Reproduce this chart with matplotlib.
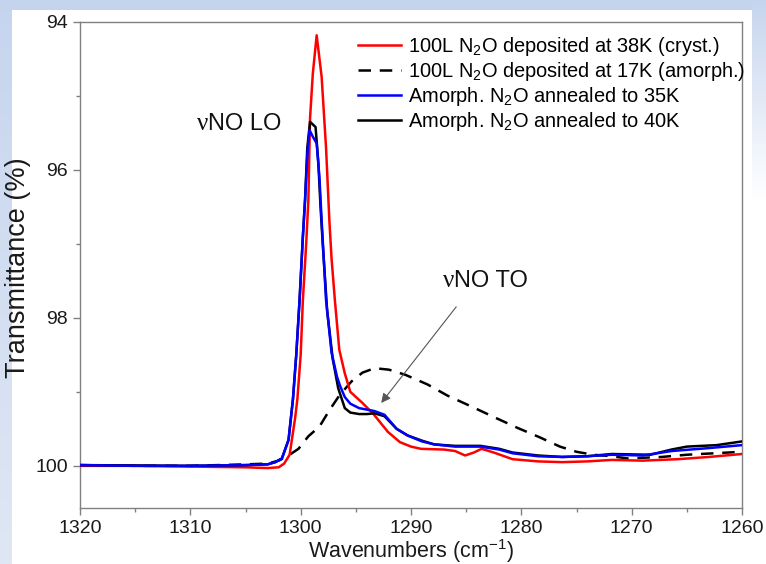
import numpy as np
import matplotlib
matplotlib.use('Agg')
import matplotlib.pyplot as plt
from matplotlib.ticker import MultipleLocator

plt.rcParams['font.family'] = ['Liberation Sans', 'DejaVu Sans']
plt.rcParams['mathtext.fontset'] = 'custom'
plt.rcParams['mathtext.rm'] = 'Liberation Sans'
plt.rcParams['mathtext.it'] = 'Liberation Sans:italic'
plt.rcParams['mathtext.bf'] = 'Liberation Sans:bold'

# --- spectra (wavenumber cm^-1, transmittance %) ---
W_CRYST = [1320, 1315, 1310, 1305, 1303, 1302, 1301.5, 1301.0, 1300.8, 1300.5,
           1300.3, 1300.0, 1299.8, 1299.5, 1299.3, 1299.15, 1298.9, 1298.55,
           1298.1, 1297.7, 1297.4, 1297.2, 1296.9, 1296.5, 1296.0, 1295.5,
           1294.4, 1293.4, 1292.1, 1291.0, 1290.0, 1289.1, 1287.0, 1286.0,
           1285.1, 1284.3, 1283.6, 1282.5, 1280.8, 1278.5, 1276.3, 1274.0,
           1271.8, 1269.0, 1265.8, 1263.0, 1260.0]
T_CRYST = [100.00, 100.00, 100.01, 100.02, 100.03, 100.02, 99.97, 99.85, 99.65,
           99.35, 99.10, 98.50, 97.76, 97.00, 96.40, 95.30, 94.70, 94.18, 94.74,
           95.70, 96.68, 97.20, 97.76, 98.43, 98.75, 99.00, 99.15, 99.30, 99.54,
           99.68, 99.74, 99.77, 99.78, 99.80, 99.86, 99.82, 99.77, 99.82, 99.91,
           99.94, 99.95, 99.94, 99.92, 99.93, 99.91, 99.88, 99.84]

W_AMORPH = [1320, 1315, 1310, 1305, 1303, 1302, 1301.2, 1300.2, 1299.3, 1298.3,
            1297.4, 1296.5, 1295.4, 1294.4, 1293.3, 1292.0, 1290.5, 1288.5,
            1286.7, 1284.5, 1282.2, 1280.3, 1278.4, 1276.5, 1275.0, 1273.5,
            1271.8, 1270.4, 1267.3, 1265.0, 1260.0]
T_AMORPH = [99.99, 100.00, 100.00, 99.98, 99.97, 99.93, 99.87, 99.77, 99.60,
            99.47, 99.25, 99.05, 98.86, 98.74, 98.68, 98.70, 98.77, 98.90, 99.05,
            99.20, 99.36, 99.49, 99.61, 99.74, 99.81, 99.85, 99.87, 99.90, 99.88,
            99.85, 99.81]

W_ANN35 = [1320, 1315, 1310, 1305, 1303, 1302.3, 1301.7, 1301.1, 1300.7, 1300.4,
           1300.1, 1299.8, 1299.6, 1299.4, 1299.2, 1298.9, 1298.55, 1298.3,
           1298.1, 1297.7, 1297.2, 1296.7, 1296.4, 1296.0, 1295.5, 1294.7,
           1294.0, 1293.3, 1292.4, 1291.3, 1290.3, 1289.0, 1287.9, 1286.0,
           1283.7, 1282.0, 1280.8, 1278.5, 1276.3, 1274.0, 1271.8, 1269.0,
           1266.4, 1263.0, 1260.0]
T_ANN35 = [99.99, 100.00, 100.00, 99.99, 99.98, 99.95, 99.90, 99.65, 99.10,
           98.50, 97.76, 96.90, 96.40, 95.80, 95.46, 95.55, 95.64, 96.10, 96.68,
           97.76, 98.47, 98.80, 98.93, 99.07, 99.16, 99.22, 99.24, 99.26, 99.31,
           99.50, 99.59, 99.67, 99.71, 99.74, 99.74, 99.78, 99.83, 99.87, 99.88,
           99.87, 99.85, 99.86, 99.80, 99.76, 99.72]

W_ANN40 = [1320, 1310, 1305, 1303, 1302.3, 1301.7, 1301.1, 1300.7, 1300.4,
           1300.1, 1299.8, 1299.6, 1299.4, 1299.15, 1298.65, 1298.4, 1298.2,
           1298.0, 1297.6, 1297.1, 1296.6, 1296.0, 1295.5, 1294.7, 1294.0,
           1293.3, 1292.4, 1291.3, 1290.3, 1289.0, 1287.9, 1286.0, 1283.7,
           1282.0, 1280.8, 1278.5, 1276.3, 1274.0, 1271.8, 1268.3, 1266.4,
           1265.0, 1262.3, 1260.0]
T_ANN40 = [99.99, 100.00, 99.99, 99.98, 99.95, 99.90, 99.65, 99.10, 98.50,
           97.76, 96.90, 96.40, 95.70, 95.35, 95.42, 95.90, 96.50, 97.00, 97.90,
           98.55, 98.95, 99.22, 99.28, 99.30, 99.30, 99.29, 99.33, 99.50, 99.59,
           99.66, 99.71, 99.73, 99.73, 99.77, 99.82, 99.86, 99.88, 99.87, 99.84,
           99.85, 99.78, 99.74, 99.72, 99.67]

LABELS = ['100L N$_2$O deposited at 38K (cryst.)',
          '100L N$_2$O deposited at 17K (amorph.)',
          'Amorph. N$_2$O annealed to 35K',
          'Amorph. N$_2$O annealed to 40K']

X_TICKS = [1320, 1310, 1300, 1290, 1280, 1270, 1260]
Y_TICKS = [94, 96, 98, 100]

# annotation anchors (data coords): split point between the greek nu and the rest
LO_POS = (1308.4, 95.46)
TO_POS = (1286.1, 97.58)
TO_TAIL = (1285.9, 97.85)
TO_HEAD = (1292.7, 99.15)

W, H = 766, 564
fig = plt.figure(figsize=(W / 100, H / 100), dpi=100)

# slide-style light blue frame behind the chart
bg = fig.add_axes([0, 0, 1, 1], zorder=-10)
img = np.ones((H, W, 3))
top_c = np.array([0.776, 0.835, 0.933])
bot_c = np.array([0.875, 0.906, 0.957])
for r in range(H):
    f = r / (H - 1)
    img[r, :12] = top_c * (1 - f) + bot_c * f
img[:10, :] = top_c
for r in range(H):
    f = min(1.0, r / 200)
    img[r, 752:] = top_c * (1 - f) + np.ones(3) * f
bg.imshow(img, aspect='auto', extent=(0, 1, 0, 1))
bg.axis('off')

AX_TOP, AX_BOT = 22, 508
ax = fig.add_axes([80 / W, 1 - AX_BOT / H, 662 / W, (AX_BOT - AX_TOP) / H])

LW = 1.8
l1, = ax.plot(W_CRYST, T_CRYST, color='#ff0000', lw=LW, zorder=3)
l2, = ax.plot(W_AMORPH, T_AMORPH, color='black', lw=LW, dashes=(5, 3.5), zorder=2)
l4, = ax.plot(W_ANN40, T_ANN40, color='black', lw=LW, zorder=3)
l3, = ax.plot(W_ANN35, T_ANN35, color='#0000ff', lw=LW, zorder=4)

ax.set_xlim(1320, 1260)
ax.set_ylim(100.57, 94)
ax.set_xticks(X_TICKS)
ax.set_yticks(Y_TICKS)
ax.xaxis.set_minor_locator(MultipleLocator(5))
ax.yaxis.set_minor_locator(MultipleLocator(1))

for s in ax.spines.values():
    s.set_color('#808080')
    s.set_linewidth(1.0)
ax.tick_params(which='major', direction='out', length=5, width=1.0,
               color='#808080', labelsize=14, labelcolor='#1a1a1a')
ax.tick_params(which='minor', direction='out', length=3, width=1.0,
               color='#808080')

ax.set_xlabel('Wavenumbers (cm$^{-1}$)', fontsize=15.5, color='#1a1a1a', labelpad=0)
ax.set_ylabel('Transmittance (%)', fontsize=19.5, color='#1a1a1a')
ax.yaxis.label.set_va('center')
ax.yaxis.set_label_coords(-0.093, 0.495)

for (x, y), rest in ((LO_POS, 'NO LO'), (TO_POS, 'NO TO')):
    ax.text(x, y, 'ν', fontsize=18, family='Liberation Serif', ha='right',
            va='baseline', color='#111111')
    ax.text(x, y, rest, fontsize=17, ha='left', va='baseline', color='#111111')
ax.annotate('', xy=TO_HEAD, xytext=TO_TAIL,
            arrowprops=dict(arrowstyle='-|>', color='#555555', lw=0.8,
                            mutation_scale=14, shrinkA=0, shrinkB=0))

ax.legend([l1, l2, l3, l4], LABELS, loc='upper left',
          bbox_to_anchor=(0.42, (AX_BOT - 35) / (AX_BOT - AX_TOP)),
          frameon=False, fontsize=14.4,
          handlelength=2.15, handletextpad=0.35, labelspacing=0.1,
          borderpad=0, borderaxespad=0)

fig.savefig('out.png', dpi=100)
